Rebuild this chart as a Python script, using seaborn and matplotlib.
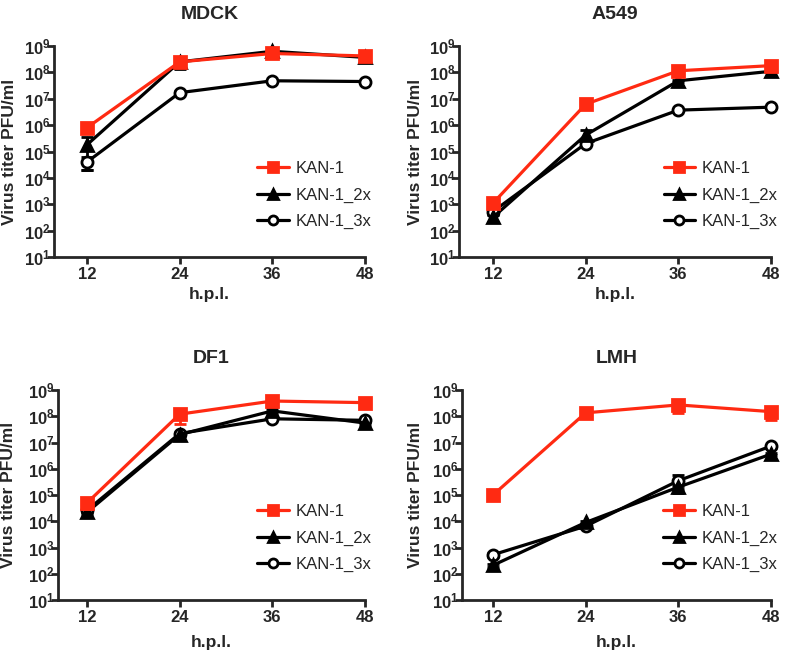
import numpy as np
import pandas as pd
import matplotlib
matplotlib.use("Agg")
import matplotlib.pyplot as plt
import seaborn as sns
from matplotlib.ticker import FixedLocator, FuncFormatter
from matplotlib.lines import Line2D

sns.set_style("ticks")
plt.rcParams["font.family"] = ["Liberation Sans", "DejaVu Sans"]
plt.rcParams["mathtext.fontset"] = "custom"
plt.rcParams["mathtext.rm"] = "Liberation Sans"
plt.rcParams["mathtext.bf"] = "Liberation Sans:bold"

# time points (hours post infection)
hpl = [12, 24, 36, 48]
strains = ["KAN-1", "KAN-1_2x", "KAN-1_3x"]
cells = ["MDCK", "A549", "DF1", "LMH"]

# mean titers (PFU/ml)
mdck_kan1 = [8e5, 2.5e8, 5.2e8, 4.2e8]
mdck_2x = [1.8e5, 2.5e8, 6.3e8, 3.7e8]
mdck_3x = [4.0e4, 1.7e7, 4.8e7, 4.5e7]
a549_kan1 = [1.1e3, 6.2e6, 1.15e8, 1.8e8]
a549_2x = [3.2e2, 4.2e5, 4.8e7, 1.1e8]
a549_3x = [5.3e2, 2.0e5, 3.7e6, 4.8e6]
df1_kan1 = [5.0e4, 1.2e8, 3.8e8, 3.3e8]
df1_2x = [2.2e4, 2.0e7, 1.6e8, 5.5e7]
df1_3x = [2.6e4, 2.2e7, 8.0e7, 7.0e7]
lmh_kan1 = [1.0e5, 1.35e8, 2.7e8, 1.5e8]
lmh_2x = [2.1e2, 9.0e3, 2.0e5, 3.6e6]
lmh_3x = [5.3e2, 6.5e3, 3.5e5, 7.3e6]

# standard deviations (PFU/ml)
mdck_kan1_sd = [1.0e5, 5.0e7, 1.6e8, 1.4e8]
mdck_2x_sd = [1.6e5, 1.1e8, 1.5e8, 1.0e8]
mdck_3x_sd = [2.0e4, 2.0e6, 5.0e6, 4.0e6]
a549_kan1_sd = [2.0e2, 1.0e6, 1.5e7, 2.0e7]
a549_2x_sd = [1.0e2, 2.5e5, 5.0e6, 1.0e7]
a549_3x_sd = [1.5e2, 3.0e4, 3.0e5, 4.0e5]
df1_kan1_sd = [2.0e4, 7.0e7, 5.0e7, 4.0e7]
df1_2x_sd = [3.0e3, 3.0e6, 3.0e7, 8.0e6]
df1_3x_sd = [3.0e3, 3.0e6, 1.0e7, 8.0e6]
lmh_kan1_sd = [1.0e4, 1.5e7, 1.4e8, 8.0e7]
lmh_2x_sd = [3.0e1, 1.0e3, 3.0e4, 4.0e5]
lmh_3x_sd = [8.0e1, 8.0e2, 2.3e5, 1.0e6]

means = {
    "MDCK": [mdck_kan1, mdck_2x, mdck_3x],
    "A549": [a549_kan1, a549_2x, a549_3x],
    "DF1": [df1_kan1, df1_2x, df1_3x],
    "LMH": [lmh_kan1, lmh_2x, lmh_3x],
}
sds = {
    "MDCK": [mdck_kan1_sd, mdck_2x_sd, mdck_3x_sd],
    "A549": [a549_kan1_sd, a549_2x_sd, a549_3x_sd],
    "DF1": [df1_kan1_sd, df1_2x_sd, df1_3x_sd],
    "LMH": [lmh_kan1_sd, lmh_2x_sd, lmh_3x_sd],
}

red = "#ff2a12"
colors = {"KAN-1": red, "KAN-1_2x": "black", "KAN-1_3x": "black"}
markers = {"KAN-1": "s", "KAN-1_2x": "^", "KAN-1_3x": "o"}
mface = {"KAN-1": red, "KAN-1_2x": "black", "KAN-1_3x": "white"}

W, H = 787, 654
# panel boxes in pixels: spine x, x of the 48 tick, top, bottom, ylabel right edge, xlabel drop
boxes = {
    "MDCK": (54, 365, 46, 257, 17, 30),
    "A549": (459, 771, 46, 257, 423, 30),
    "DF1": (58, 365, 390, 600, 16, 35),
    "LMH": (462, 771, 390, 600, 423, 35),
}
px_per_h = (365 - 87) / 36.0

fig = plt.figure(figsize=(W / 100, H / 100), dpi=100)

for cell in cells:
    l, r, t, b, ylab_x, xlab_drop = boxes[cell]
    xmin = 48 - (r - l) / px_per_h
    wpx, hpx = r - l, b - t
    ax = fig.add_axes([l / W, 1 - b / H, wpx / W, hpx / H])
    # black series first so the red one sits on top
    for i in [2, 1, 0]:
        s = strains[i]
        z = 4 if i == 0 else 2
        df = pd.DataFrame({"hpl": hpl, "titer": means[cell][i]})
        ax.errorbar(hpl, means[cell][i], yerr=sds[cell][i], fmt="none",
                    ecolor=colors[s], elinewidth=2, capsize=4, capthick=2,
                    zorder=z, clip_on=False)
        sns.lineplot(data=df, x="hpl", y="titer", ax=ax, color=colors[s],
                     linewidth=2.3, marker=markers[s], markersize=8,
                     markerfacecolor=mface[s], markeredgecolor=colors[s],
                     markeredgewidth=2, zorder=z + 0.5, clip_on=False)
    ax.set_yscale("log")
    ax.set_ylim(10, 1e9)
    ax.set_xlim(xmin, 48)
    ax.xaxis.set_major_locator(FixedLocator(hpl))
    ax.yaxis.set_major_locator(FixedLocator([10.0 ** k for k in range(1, 10)]))
    ax.yaxis.set_minor_locator(FixedLocator([]))
    ax.yaxis.set_major_formatter(FuncFormatter(
        lambda v, p: r"$\mathbf{10^{%d}}$" % round(np.log10(v))))
    ax.tick_params(axis="both", labelsize=12, width=2, length=5, direction="out")
    ax.tick_params(axis="x", pad=2)
    ax.tick_params(axis="y", pad=-2.5)
    for lab in ax.get_xticklabels():
        lab.set_fontweight("bold")
    for sp in ["top", "right"]:
        ax.spines[sp].set_visible(False)
    for sp in ["left", "bottom"]:
        ax.spines[sp].set_linewidth(2)

    ax.set_xlabel("h.p.l.", fontsize=12.5, fontweight="bold")
    ax.xaxis.set_label_coords(0.5, -xlab_drop / hpx)
    ax.set_ylabel("Virus titer PFU/ml", fontsize=12.5, fontweight="bold")
    ax.yaxis.set_label_coords(-(l - ylab_x) / wpx, 0.5)
    ax.set_title(cell, fontsize=14, fontweight="bold", pad=19.5)

    handles = [Line2D([], [], color=colors[s], marker=markers[s], markersize=6.5,
                      markerfacecolor=mface[s], markeredgecolor=colors[s],
                      markeredgewidth=2, linewidth=2.3) for s in strains]
    ax.legend(handles, strains, loc="lower right", bbox_to_anchor=(1.07, 0.06),
              frameon=False, fontsize=12, handlelength=1.9, handletextpad=0.4,
              labelspacing=0.7)

fig.savefig("out.png", dpi=100)
